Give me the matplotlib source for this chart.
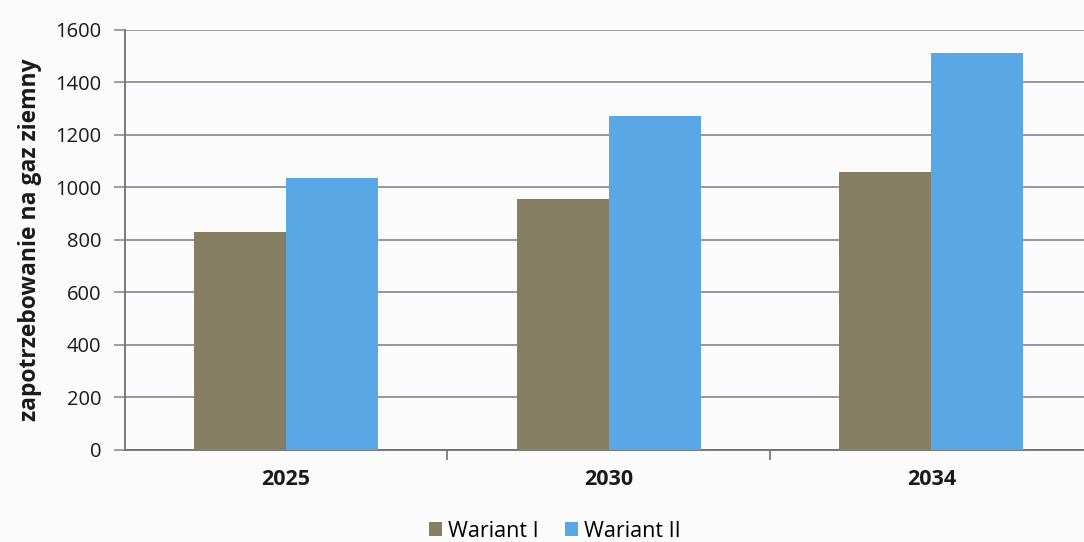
import numpy as np
import matplotlib.pyplot as plt

years = ['2025', '2030', '2034']
wariant_1 = [830, 955, 1060]
wariant_2 = [1035, 1270, 1510]
series_names = ['Wariant I', 'Wariant II']

plt.rcParams['font.family'] = ['Open Sans', 'DejaVu Sans']

fig = plt.figure(figsize=(10.84, 5.42), dpi=100)
fig.patch.set_facecolor('#fbfbfb')
ax = fig.add_axes([0.115, 0.170, 0.893, 0.775])
ax.set_facecolor('#fbfbfb')

x = np.arange(len(years))
w = 0.285
ax.bar(x - w / 2, wariant_1, w, color='#857e62', label=series_names[0], zorder=3)
ax.bar(x + w / 2, wariant_2, w, color='#5aa7e6', label=series_names[1], zorder=3)

ax.set_xlim(-0.5, 2.5)
ax.set_ylim(0, 1600)
ax.set_yticks(range(0, 1601, 200))
ax.yaxis.grid(True, color='#8a8f99', linewidth=1.3, zorder=0)

ax.set_xticks(x)
ax.set_xticklabels(years, fontsize=15.5, fontweight='bold', color='#1a1a1a')
ax.set_xticks([0.5, 1.5], minor=True)
ax.tick_params(axis='x', which='major', length=0, pad=14)
ax.tick_params(axis='x', which='minor', length=7, color='#707070', width=1.2)
ax.tick_params(axis='y', labelsize=14.5, length=8, width=1.2, pad=9,
               labelcolor='#1a1a1a', color='#8a8f99')

for s in ['top', 'right']:
    ax.spines[s].set_visible(False)
ax.spines['left'].set_color('#707070')
ax.spines['left'].set_linewidth(1.3)
ax.spines['bottom'].set_color('#707070')
ax.spines['bottom'].set_linewidth(1.3)

ax.set_ylabel('zapotrzebowanie na gaz ziemny', fontsize=16.5, fontweight='bold',
              color='#1a1a1a')
ax.yaxis.set_label_coords(-0.085, 0.5)

fig.legend(loc='lower center', bbox_to_anchor=(0.512, -0.035), ncol=2, frameon=False,
           fontsize=15.5, handlelength=0.6, handleheight=0.6, handletextpad=0.3,
           columnspacing=1.2)

fig.savefig('out.png', dpi=100, facecolor=fig.get_facecolor())
